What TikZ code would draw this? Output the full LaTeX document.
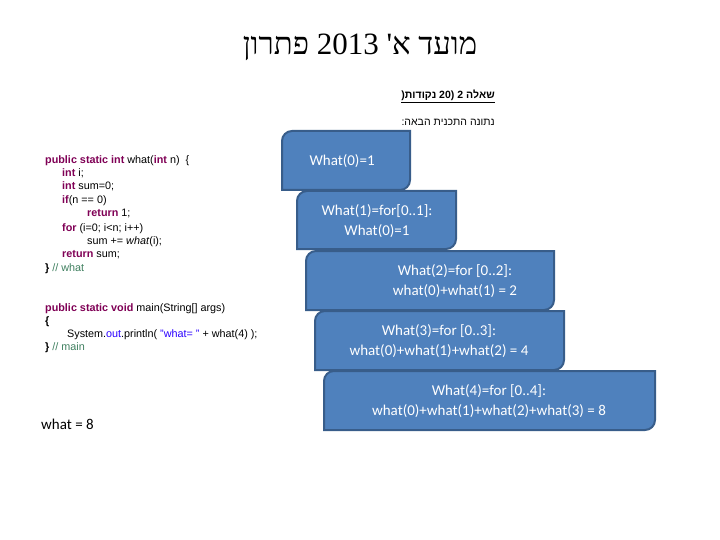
\documentclass[tikz,border=0pt]{standalone}
\usepackage{fontspec}
\setmainfont{Liberation Sans}
\newfontfamily\hebserif{Liberation Serif}
\newfontfamily\hebsans{Liberation Sans}
\newfontfamily\calfont{Carlito}
\TeXXeTstate=1
\definecolor{boxfill}{HTML}{4F81BD}
\definecolor{boxline}{HTML}{385D8A}
\definecolor{kw}{HTML}{7F0055}
\definecolor{cm}{HTML}{3F7F5F}
\definecolor{st}{HTML}{2A00FF}
\tikzset{
  code/.style={anchor=base west,inner sep=0pt,font=\fontsize{10.8}{12}\selectfont},
  btxt/.style={text=white,align=center,font=\calfont\fontsize{15}{20}\selectfont},
}
\newcommand{\kwd}[1]{\textcolor{kw}{\textbf{#1}}}
\newcommand{\mybox}[5]{% name x1 y1 x2 y2
  \draw[boxline,line width=2pt,fill=boxfill]
    (#2,#5) -- (#2,#3+10) arc[start angle=180,end angle=270,radius=10] -- (#4,#3)
    -- (#4,#5-10) arc[start angle=0,end angle=90,radius=10] -- cycle;
  \coordinate (#1) at ({(#2+#4)/2},{(#3+#5)/2});}
\begin{document}
\begin{tikzpicture}[x=1pt,y=-1pt]
\useasboundingbox (0,0) rectangle (720,540);
\node (title) at (360,47) {\hebserif\fontsize{31}{34}\selectfont\beginR מועד א' \beginL2013\endL{} פתרון\endR};
\node[anchor=east,inner sep=0pt] (h1) at (495,96) {\hebsans\bfseries\fontsize{10.5}{12}\selectfont\underline{\beginR שאלה \beginL2\endL{} )\beginL20\endL{} נקודות(\endR}};
\node[anchor=east,inner sep=0pt] (h2) at (495,122) {\hebsans\fontsize{10.5}{12}\selectfont\beginR נתונה התכנית הבאה:\endR};
\node[code] (c1) at (45,164) {\kwd{public static int} what(\kwd{int} n)\ \ \{};
\node[code] (c2) at (62,177) {\kwd{int} i;};
\node[code] (c3) at (62,190) {\kwd{int} sum=0;};
\node[code] (c4) at (62,204) {\kwd{if}(n == 0)};
\node[code] (c5) at (87,217) {\kwd{return} 1;};
\node[code] (c6) at (62,231) {\kwd{for} (i=0; i<n; i++)};
\node[code] (c7) at (87,244) {sum += \textit{what}(i);};
\node[code] (c8) at (62,258) {\kwd{return} sum;};
\node[code] (c9) at (45,271) {\textbf{\}} \textcolor{cm}{// what}};
\node[code] (m1) at (45,311) {\kwd{public static void} main(String[] args)};
\node[code] (m2) at (45,324) {\textbf{\{}};
\node[code] (m3) at (67,337) {System.\textcolor{st}{out}.println( \textcolor{st}{"what= "} + what(4) );};
\node[code] (m4) at (45,350) {\textbf{\}} \textcolor{cm}{// main}};
\node[anchor=base west,inner sep=0pt,font=\calfont\fontsize{15}{18}\selectfont] (ans) at (41,429) {what = 8};
\mybox{b1}{282}{131}{410}{190}
\mybox{b2}{297}{191}{456}{249}
\mybox{b3}{306}{251}{554}{310}
\mybox{b4}{315}{311}{564}{370}
\mybox{b5}{324}{371}{655}{430}
\node[btxt,anchor=west] (t1) at (306,161) {What(0)=1};
\node[btxt] (t2) at (377,221) {What(1)=for[0..1]:\\What(0)=1};
\node[btxt] (t3) at (455,281) {What(2)=for [0..2]:\\what(0)+what(1) = 2};
\node[btxt] (t4) at (439,341) {What(3)=for [0..3]:\\what(0)+what(1)+what(2) = 4};
\node[btxt] (t5) at (489,401) {What(4)=for [0..4]:\\what(0)+what(1)+what(2)+what(3) = 8};
\end{tikzpicture}
\end{document}
